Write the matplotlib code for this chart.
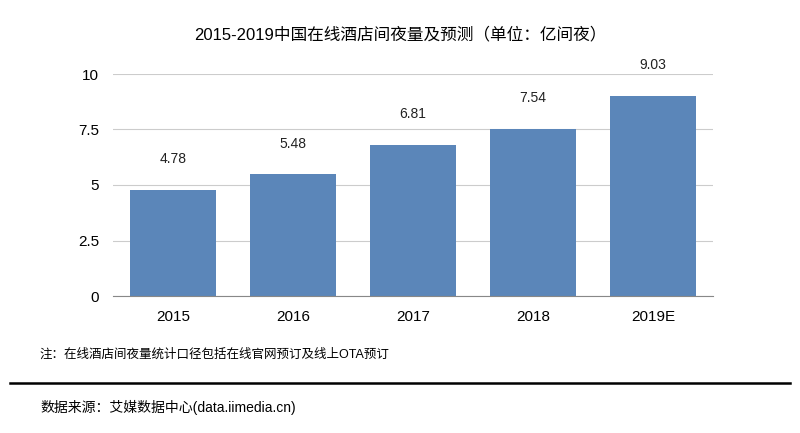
import matplotlib
matplotlib.use("Agg")
import matplotlib.pyplot as plt

years = ["2015", "2016", "2017", "2018", "2019E"]
values = [4.78, 5.48, 6.81, 7.54, 9.03]
yticks = [0, 2.5, 5, 7.5, 10]
ytick_labels = ["0", "2.5", "5", "7.5", "10"]

plt.rcParams['font.family'] = ['Liberation Sans', 'Noto Sans CJK SC']

fig = plt.figure(figsize=(8, 4.33), dpi=100)
ax = fig.add_axes([113 / 800, 1 - 296 / 433, 600 / 800, 222 / 433])

x = range(len(years))
bars = ax.bar(x, values, width=0.72, color="#5b86b9", zorder=3)
for b, v in zip(bars, values):
    ax.annotate(f"{v:.2f}", (b.get_x() + b.get_width() / 2, v),
                xytext=(0, 22), textcoords="offset points",
                ha="center", va="center", fontsize=10, color="#222222")

ax.set_xlim(-0.5, len(years) - 0.5)
ax.set_ylim(0, 10)
ax.set_yticks(yticks)
ax.set_yticklabels(ytick_labels, fontsize=11)
ax.set_xticks(list(x))
ax.set_xticklabels(years, fontsize=11)
ax.tick_params(length=0, pad=10)
ax.yaxis.grid(True, color="#cccccc", linewidth=0.8, zorder=0)
for s in ["top", "right", "left"]:
    ax.spines[s].set_visible(False)
ax.spines["bottom"].set_color("#888888")
ax.spines["bottom"].set_zorder(4)

fig.text(0.5, 1 - 34 / 433, "2015-2019中国在线酒店间夜量及预测（单位：亿间夜）",
         ha="center", va="center", fontsize=12)
fig.text(40 / 800, 1 - 355 / 433, "注：在线酒店间夜量统计口径包括在线官网预订及线上OTA预订",
         ha="left", va="center", fontsize=9)
fig.add_artist(plt.Line2D([10 / 800, 790 / 800], [1 - 383 / 433, 1 - 383 / 433],
                          color="black", linewidth=1.8))
fig.text(40 / 800, 1 - 407 / 433, "数据来源：艾媒数据中心(data.iimedia.cn)",
         ha="left", va="center", fontsize=10)

fig.savefig("out.png", dpi=100)
